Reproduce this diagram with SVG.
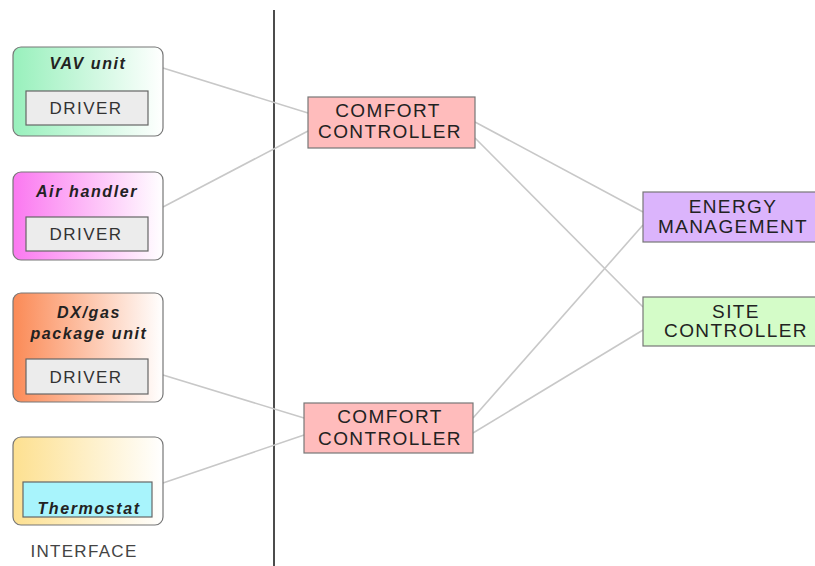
<svg xmlns="http://www.w3.org/2000/svg" width="815" height="566" viewBox="0 0 815 566">
<style>
.unit{stroke:#777;stroke-width:1.2}
.drv{fill:#ececec;stroke:#666;stroke-width:1.2}
.ttl{font-family:"Liberation Sans",Arial,sans-serif;font-size:16px;font-weight:bold;font-style:italic;fill:#222;text-anchor:middle;letter-spacing:1.6px}
.lbl{font-family:"Liberation Sans",Arial,sans-serif;font-size:17px;fill:#333;text-anchor:middle;letter-spacing:1.5px}
.ctl{stroke:#777;stroke-width:1.2}
.ctxt{font-family:"Liberation Sans",Arial,sans-serif;font-size:19px;fill:#222;text-anchor:middle;letter-spacing:1.4px}
.conn line{stroke:#c8c8c8;stroke-width:1.6}
</style>
<defs>
<linearGradient id="gGreen" x1="0" x2="1" y1="0" y2="0"><stop offset="0" stop-color="#98f0bc"/><stop offset="1" stop-color="#ffffff"/></linearGradient>
<linearGradient id="gPink" x1="0" x2="1" y1="0" y2="0"><stop offset="0" stop-color="#fb78f0"/><stop offset="1" stop-color="#ffffff"/></linearGradient>
<linearGradient id="gOrange" x1="0" x2="1" y1="0" y2="0"><stop offset="0" stop-color="#fb8a56"/><stop offset="1" stop-color="#ffffff"/></linearGradient>
<linearGradient id="gYellow" x1="0" x2="1" y1="0" y2="0"><stop offset="0" stop-color="#fde090"/><stop offset="1" stop-color="#ffffff"/></linearGradient>
</defs>
<rect width="815" height="566" fill="#ffffff"/>
<line x1="274" y1="10" x2="274" y2="566" stroke="#111" stroke-width="1.5"/>
<g class="conn" id="connectors">
<line x1="163" y1="68" x2="308" y2="113"/>
<line x1="163" y1="207" x2="308" y2="131"/>
<line x1="163" y1="375" x2="304" y2="418"/>
<line x1="163" y1="483" x2="304" y2="435"/>
<line x1="475" y1="122" x2="643" y2="212"/>
<line x1="475" y1="138" x2="643" y2="307"/>
<line x1="473" y1="418" x2="643" y2="225"/>
<line x1="473" y1="433" x2="643" y2="330"/>
</g>
<g id="vav">
<rect class="unit" x="13" y="47" width="150" height="89" rx="8" fill="url(#gGreen)"/>
<text class="ttl" x="88" y="69">VAV unit</text>
<rect class="drv" x="26" y="91" width="122" height="34"/>
<text class="lbl" x="86" y="114">DRIVER</text>
</g>
<g id="airhandler">
<rect class="unit" x="13" y="172" width="150" height="88" rx="8" fill="url(#gPink)"/>
<text class="ttl" x="87" y="197">Air handler</text>
<rect class="drv" x="26" y="217" width="122" height="34"/>
<text class="lbl" x="86" y="240">DRIVER</text>
</g>
<g id="dxgas">
<rect class="unit" x="13" y="293" width="150" height="109" rx="8" fill="url(#gOrange)"/>
<text class="ttl" x="89" y="318">DX/gas</text>
<text class="ttl" x="89" y="339">package unit</text>
<rect class="drv" x="26" y="359" width="122" height="35"/>
<text class="lbl" x="86" y="383">DRIVER</text>
</g>
<g id="thermostat">
<rect class="unit" x="13" y="437" width="150" height="88" rx="8" fill="url(#gYellow)"/>
<rect x="23" y="482" width="129" height="35" fill="#a8f4fc" stroke="#666" stroke-width="1.2"/>
<text class="ttl" x="89" y="514">Thermostat</text>
</g>
<g id="interface">
<text class="lbl" x="84" y="557" style="font-size:17px;letter-spacing:1.3px;fill:#444">INTERFACE</text>
</g>
<g id="comfort1">
<rect class="ctl" x="308" y="97" width="167" height="51" fill="#ffbcbc"/>
<text class="ctxt" x="388" y="117">COMFORT</text>
<text class="ctxt" x="390" y="138">CONTROLLER</text>
</g>
<g id="comfort2">
<rect class="ctl" x="304" y="403" width="169" height="50" fill="#ffbcbc"/>
<text class="ctxt" x="390" y="423">COMFORT</text>
<text class="ctxt" x="390" y="445">CONTROLLER</text>
</g>
<g id="energy">
<rect class="ctl" x="643" y="192" width="175" height="50" fill="#dbb4fc"/>
<text class="ctxt" x="733" y="213">ENERGY</text>
<text class="ctxt" x="733" y="233">MANAGEMENT</text>
</g>
<g id="site">
<rect class="ctl" x="643" y="297" width="175" height="49" fill="#d4fcc8"/>
<text class="ctxt" x="736" y="318">SITE</text>
<text class="ctxt" x="736" y="337">CONTROLLER</text>
</g>
</svg>
